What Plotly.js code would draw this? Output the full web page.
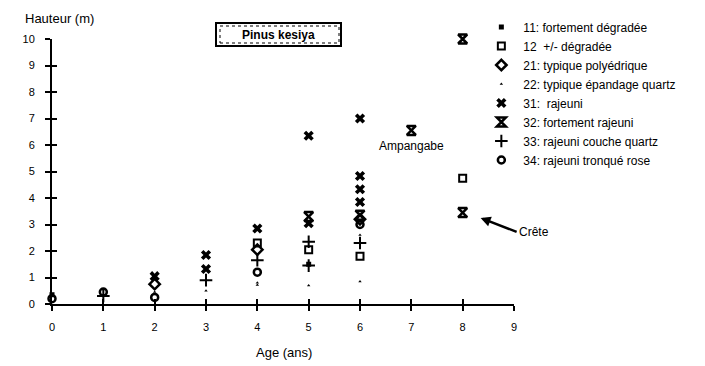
<!DOCTYPE html>
<html><head><meta charset="utf-8">
<script src="https://cdn.plot.ly/plotly-3.0.1.min.js"></script>
<style>html,body{margin:0;padding:0;background:#fff}#c{width:705px;height:366px}</style>
</head><body><div id="c"></div>
<script>
const legendNames = ["11: fortement dégradée","12  +/- dégradée","21: typique polyédrique","22: typique épandage quartz","31:  rajeuni","32: fortement rajeuni","33: rajeuni couche quartz","34: rajeuni tronqué rose"];
const s11x=[0,5], s11y=[0.35,1.5];
const s12x=[4,5,6,8], s12y=[2.3,2.05,1.8,4.75];
const s21x=[2,4,6], s21y=[0.75,2.05,3.2];
const s22x=[1,2,3,4,4,5,6,6], s22y=[0.55,0.45,0.5,0.72,0.8,0.7,0.85,2.6];
const s31x=[2,3,3,4,5,5,6,6,6,6], s31y=[1.05,1.85,1.32,2.85,6.35,3.05,7.0,4.83,4.33,3.85];
const s32x=[5,6,7,8,8], s32y=[3.3,3.35,6.55,10.0,3.45];
const s33x=[1,3,4,5,5,6], s33y=[0.3,0.9,1.65,2.35,1.45,2.3];
const s34x=[0,1,2,4,6], s34y=[0.2,0.45,0.25,1.2,3.0];
const xTicks=[0,1,2,3,4,5,6,7,8,9];
const yTicks=[0,1,2,3,4,5,6,7,8,9,10];

const K='#000';
function tr(x,y,name,marker){return {x:x,y:y,name:name,type:'scatter',mode:'markers',marker:marker,cliponaxis:false};}
const data=[
 tr(s11x,s11y,legendNames[0],{symbol:'square',size:5,color:K}),
 tr(s12x,s12y,legendNames[1],{symbol:'square-open',size:7,color:K,line:{width:2,color:K}}),
 tr(s21x,s21y,legendNames[2],{symbol:'diamond-open',size:8,color:K,line:{width:2.5,color:K}}),
 tr(s22x,s22y,legendNames[3],{symbol:'triangle-up',size:3,color:K}),
 tr(s31x,s31y,legendNames[4],{symbol:'x',size:9,color:K}),
 tr(s32x,s32y,legendNames[5],{symbol:'hourglass-open',size:9,color:K,line:{width:2.5,color:K}}),
 tr(s33x,s33y,legendNames[6],{symbol:'cross-thin-open',size:9,color:K,line:{width:2,color:K}}),
 tr(s34x,s34y,legendNames[7],{symbol:'circle-open',size:7,color:K,line:{width:2.5,color:K}}),
 {x:[],y:[],xaxis:'x2',yaxis:'y2',type:'scatter',mode:'markers',showlegend:false,hoverinfo:'skip'}
];
const F='Liberation Sans, Arial, sans-serif';
const ax={showgrid:false,zeroline:false,showline:true,linecolor:K,linewidth:2,ticks:'outside',ticklen:5,tickwidth:2,tickcolor:K,tickfont:{family:F,size:11,color:K}};
const layout={
 width:705,height:366,paper_bgcolor:'#fff',plot_bgcolor:'#fff',
 margin:{l:52,r:191,t:39,b:62},
 showlegend:true,
 legend:{x:0.925,y:1.1,xanchor:'left',yanchor:'top',font:{family:F,size:12,color:K},tracegroupgap:0,itemsizing:'trace',itemwidth:34,bgcolor:'rgba(0,0,0,0)'},
 xaxis:Object.assign({},ax,{range:[0,9],tickvals:xTicks,ticklabelstandoff:7,fixedrange:true}),
 yaxis:Object.assign({},ax,{range:[0,10],tickvals:yTicks,ticklabelstandoff:8,fixedrange:true}),
 xaxis2:{overlaying:'x',range:[0,9],tickvals:xTicks,ticks:'inside',ticklen:5,tickwidth:2,tickcolor:K,showticklabels:false,showline:false,showgrid:false,zeroline:false,anchor:'y2'},
 yaxis2:{overlaying:'y',range:[0,10],tickvals:yTicks,ticks:'inside',ticklen:5,tickwidth:2,tickcolor:K,showticklabels:false,showline:false,showgrid:false,zeroline:false,anchor:'x2'},
 annotations:[
  {xref:'paper',yref:'paper',x:-0.063,y:1+(39-18)/265,xanchor:'left',yanchor:'middle',text:'Hauteur (m)',showarrow:false,font:{family:F,size:13,color:K}},
  {xref:'paper',yref:'paper',x:0.503,y:-(352-304)/265,xanchor:'center',yanchor:'middle',text:'Age (ans)',showarrow:false,font:{family:F,size:13,color:K}},
  {xref:'paper',yref:'paper',x:0.491,y:1.017,xanchor:'center',yanchor:'middle',text:'<b>Pinus kesiya</b>',showarrow:false,width:121,height:19,bordercolor:K,borderwidth:2,borderpad:1,bgcolor:'rgba(0,0,0,0)',font:{family:F,size:12,color:K}},
  {xref:'x',yref:'y',x:7,y:5.95,text:'Ampangabe',showarrow:false,yanchor:'middle',font:{family:F,size:12,color:K}},
  {xref:'x',yref:'y',x:8.35,y:3.25,text:'Crête',showarrow:true,arrowhead:2,arrowsize:0.8,arrowwidth:2.5,arrowcolor:K,ax:36,ay:14,xanchor:'left',font:{family:F,size:12,color:K}}
 ],
 shapes:[
  {type:'rect',xref:'paper',yref:'paper',x0:(220-52)/462,x1:(339-52)/462,y0:1+(39-43)/265,y1:1+(39-26)/265,line:{color:K,width:1,dash:'dot'}}
 ]
};
Plotly.newPlot('c',data,layout,{displayModeBar:false,staticPlot:true});
</script></body></html>
